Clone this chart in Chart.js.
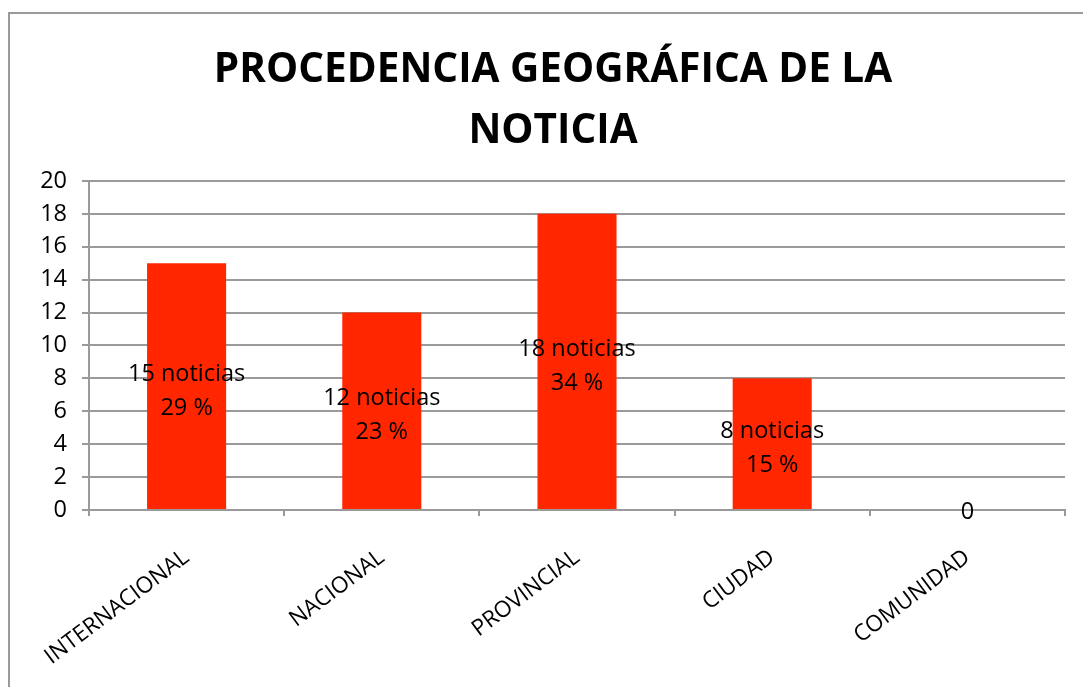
<!DOCTYPE html>
<html>
<head>
<meta charset="utf-8">
<script src="https://cdn.jsdelivr.net/npm/chart.js@4/dist/chart.umd.min.js"></script>
<style>
html,body{margin:0;padding:0;background:#fff;}
#wrap{width:1083px;height:687px;position:relative;}
</style>
</head>
<body>
<div id="wrap"><canvas id="c" width="1083" height="687"></canvas></div>
<script>
const categories = ["INTERNACIONAL", "NACIONAL", "PROVINCIAL", "CIUDAD", "COMUNIDAD"];
const noticias = [15, 12, 18, 8, 0];
const porcentajes = [29, 23, 34, 15, 0];
const yTicks = [0, 2, 4, 6, 8, 10, 12, 14, 16, 18, 20];
const titleLines = ["PROCEDENCIA GEOGRÁFICA DE LA", "NOTICIA"];

const FONT = "'Open Sans', sans-serif";

const frame = {
  id: 'frame',
  beforeDraw(chart) {
    const ctx = chart.ctx;
    ctx.save();
    ctx.strokeStyle = '#9a9a9a';
    ctx.lineWidth = 2;
    ctx.beginPath();
    ctx.moveTo(9, 687);
    ctx.lineTo(9, 13);
    ctx.lineTo(1083, 13);
    ctx.stroke();
    ctx.restore();
  }
};

const dataLabels = {
  id: 'dataLabels',
  afterDatasetsDraw(chart) {
    const ctx = chart.ctx;
    const meta = chart.getDatasetMeta(0);
    ctx.save();
    ctx.fillStyle = '#000';
    ctx.font = '23.5px ' + FONT;
    ctx.textAlign = 'center';
    ctx.textBaseline = 'middle';
    meta.data.forEach((el, i) => {
      const v = noticias[i];
      if (v === 0) {
        ctx.fillText(String(v), el.x, el.base + 2);
        return;
      }
      const mid = (el.y + el.base) / 2 + 5;
      ctx.fillText(v + ' noticias', el.x, mid - 17);
      ctx.fillText(porcentajes[i] + ' %', el.x, mid + 17);
    });
    ctx.restore();
  }
};

new Chart(document.getElementById('c'), {
  type: 'bar',
  data: {
    labels: categories,
    datasets: [{
      data: noticias,
      backgroundColor: '#ff2600',
      borderWidth: 0,
      barPercentage: 0.405,
      categoryPercentage: 1.0
    }]
  },
  options: {
    responsive: false,
    animation: false,
    layout: { padding: { left: 41, right: 18, top: 0, bottom: 0 } },
    plugins: {
      legend: { display: false },
      tooltip: { enabled: false },
      title: {
        display: true,
        text: titleLines,
        color: '#000',
        font: { family: FONT, size: 40.5, weight: 'bold', lineHeight: 1.505 },
        padding: { top: 40, bottom: 19 }
      }
    },
    scales: {
      x: {
        grid: { display: true, drawOnChartArea: false, drawTicks: true, tickLength: 6, color: '#9a9a9a', lineWidth: 2, offset: true },
        border: { display: true, color: '#9a9a9a', width: 2 },
        ticks: {
          color: '#000',
          font: { family: FONT, size: 22.5 },
          minRotation: 37,
          maxRotation: 37,
          autoSkip: false,
          padding: 28
        },
        afterFit(scale) { scale.height = 177; }
      },
      y: {
        min: 0,
        max: 20,
        afterBuildTicks(scale) { scale.ticks = yTicks.map(v => ({ value: v })); },
        grid: { color: '#9a9a9a', lineWidth: 2, tickLength: 7, drawTicks: true },
        border: { display: true, color: '#9a9a9a', width: 2 },
        ticks: {
          color: '#000',
          font: { family: FONT, size: 23.5 },
          padding: 15
        },
        afterFit(scale) { scale.width = 48; }
      }
    }
  },
  plugins: [frame, dataLabels]
});
</script>
</body>
</html>
